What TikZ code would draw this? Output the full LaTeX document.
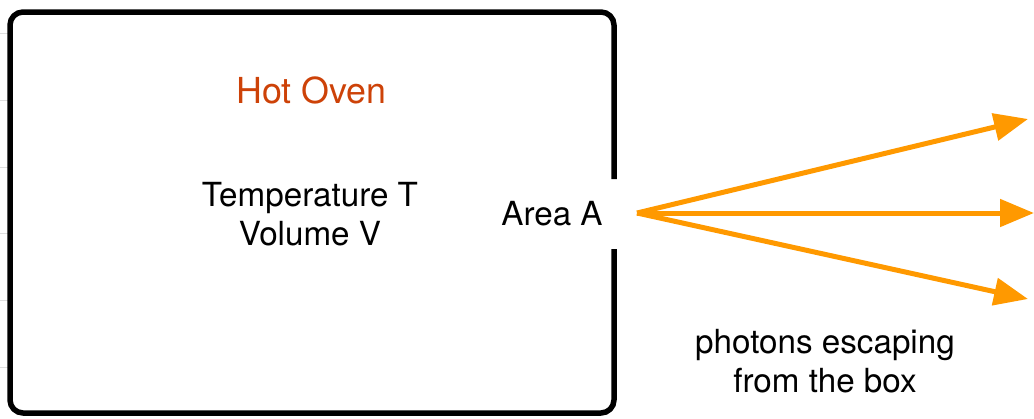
\documentclass[tikz,border=0pt]{standalone}
\usepackage{fontspec}
\setmainfont{TeX Gyre Heros}
\usetikzlibrary{arrows.meta}
\definecolor{ovenred}{RGB}{205,66,8}
\definecolor{photonorange}{RGB}{255,153,0}
\definecolor{faintgray}{RGB}{222,222,222}
\tikzset{
  ovenwall/.style={line width=5.5pt, rounded corners=13pt, line join=round},
  photon/.style={draw=photonorange, line width=5pt, -{Triangle[length=34pt,width=27pt]}},
  label/.style={inner sep=0pt, align=center, font=\fontsize{33.2}{38.5}\selectfont},
  ruler/.style={draw=faintgray, line width=0.8pt}
}
\begin{document}
\begin{tikzpicture}[x=1pt,y=-1pt]
\useasboundingbox (0,0) rectangle (1034,418);
% faint marks at left edge
\foreach \yy in {33,100,167,233,300,367}{
  \draw[ruler] (0,\yy) -- (8,\yy);
}
% oven wall with opening
\draw[ovenwall] (614,179) -- (614,12) -- (10,12) -- (10,413) -- (614,413) -- (614,249);
% labels
\node[label, anchor=base, text=ovenred, font=\fontsize{35.8}{40}\selectfont] (title) at (311.5,103) {Hot Oven};
\node[label, anchor=base] (props) at (310,245) {Temperature T\\Volume V};
\node[label, anchor=base] (area) at (552,225) {Area A};
\node[label, anchor=base] (escape) at (825,392) {photons escaping\\from the box};
% photons
\coordinate (src) at (637,213);
\coordinate (t1) at (1028,119);
\coordinate (t2) at (1034,213);
\coordinate (t3) at (1028,299);
\draw[photon] (src) -- (t1);
\draw[photon] (src) -- (t2);
\draw[photon] (src) -- (t3);
\end{tikzpicture}
\end{document}
